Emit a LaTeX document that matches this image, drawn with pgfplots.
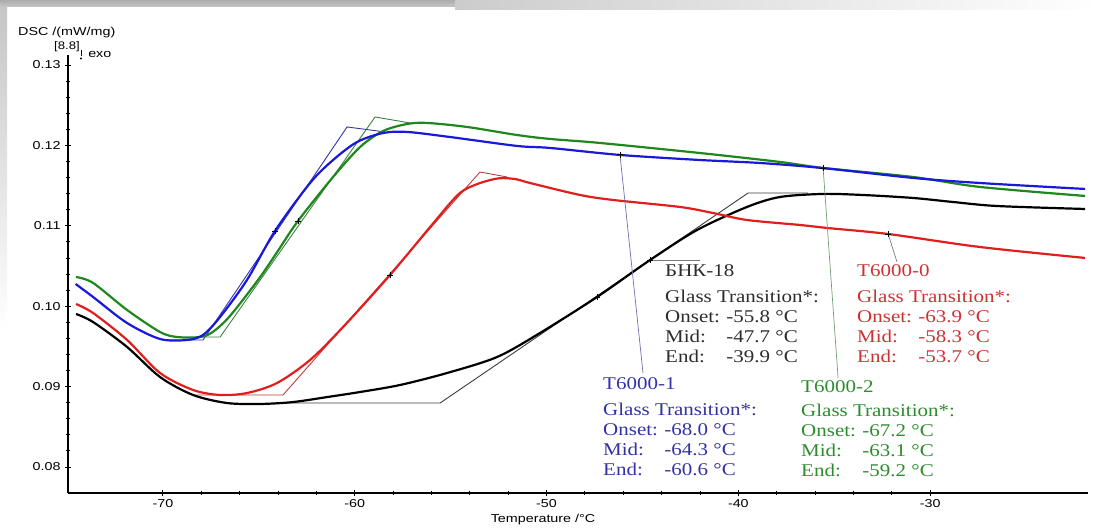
\documentclass[border=0pt]{standalone}
\usepackage{pgfplots}
\pgfplotsset{compat=1.18}
\usepackage{fontspec}
\setmainfont{Liberation Sans}
\newfontfamily\tnr{Liberation Serif}
\definecolor{cblue}{RGB}{25,25,215}
\definecolor{cgreen}{RGB}{30,135,30}
\definecolor{cred}{RGB}{225,30,30}
\definecolor{cblack}{RGB}{0,0,0}
\definecolor{tblue}{RGB}{50,50,165}
\definecolor{tgreen}{RGB}{45,140,45}
\definecolor{tred}{RGB}{205,50,50}
\definecolor{tblack}{RGB}{45,45,45}
\definecolor{kblue}{RGB}{50,50,170}
\definecolor{kgreen}{RGB}{60,130,60}
\definecolor{kred}{RGB}{190,60,60}
\definecolor{kblack}{RGB}{60,60,60}
\definecolor{lblue}{RGB}{110,110,180}
\definecolor{lgreen}{RGB}{110,160,110}
\definecolor{lgrey}{RGB}{120,120,120}
\begin{document}
\begin{tikzpicture}
\path[use as bounding box] (0bp,0bp) rectangle (1097bp,531bp);
\shade[top color=gray!65, bottom color=gray!45] (0bp,524bp) rectangle (455bp,531bp);
\shade[left color=gray!40, right color=white] (455bp,521bp) rectangle (1097bp,531bp);
\shade[top color=gray!45, bottom color=white] (0bp,200bp) rectangle (7bp,524bp);
\begin{axis}[
  at={(68bp,38bp)}, anchor=south west, scale only axis,
  width=1020bp, height=438bp,
  xmin=-74.95, xmax=-21.77, ymin=0.07677, ymax=0.13124,
  axis x line=bottom, axis y line=left,
  axis line style={-, line width=1.6bp, black},
  xtick={-70,-60,-50,-40,-30},
  ytick={0.08,0.09,0.10,0.11,0.12,0.13},
  minor x tick num=4, minor y tick num=4,
  tick align=center, major tick length=6bp, minor tick length=4bp,
  tick style={black, line width=0.9bp},
  scaled y ticks=false,
  y tick label style={/pgf/number format/.cd, fixed, fixed zerofill, precision=2},
  /pgf/number format/assume math mode=true,
  tick label style={font=\fontsize{11.5}{13}\selectfont, xscale=1.25},
]
% construction lines
\addplot[kblue, line width=0.9bp] coordinates {(-69.79,0.0958) (-67.91,0.0958) (-60.40,0.12229) (-58.42,0.12167)};
\addplot[kgreen, line width=0.9bp] coordinates {(-68.07,0.09617) (-67.02,0.09617) (-58.94,0.12353) (-57.12,0.12279)};
\addplot[kred, line width=0.9bp] coordinates {(-68.43,0.08896) (-63.74,0.08896) (-53.47,0.11669) (-52.06,0.11607)};
\addplot[kblack, line width=0.9bp] coordinates {(-64.05,0.08796) (-55.55,0.08796) (-39.49,0.11408) (-36.37,0.11408)};
% curves
\addplot[cblack, line width=2.2bp, smooth] coordinates {(-74.53,0.09903) (-73.64,0.09803) (-71.87,0.09493) (-70.15,0.09119) (-68.43,0.08896) (-66.66,0.08796) (-64.94,0.08784) (-63.22,0.08808) (-61.44,0.0887) (-59.72,0.08933) (-57.64,0.0902) (-55.19,0.09169) (-52.58,0.09368) (-50.34,0.09667) (-47.37,0.10114) (-44.60,0.10575) (-42.15,0.10948) (-39.55,0.11234) (-37.83,0.11358) (-35.58,0.11396) (-33.50,0.11383) (-30.89,0.11346) (-28.81,0.11296) (-26.51,0.11246) (-21.92,0.11209)};
\addplot[cred, line width=2.2bp, smooth] coordinates {(-74.53,0.10027) (-73.64,0.09915) (-71.87,0.0958) (-70.15,0.09169) (-68.43,0.08958) (-67.02,0.08896) (-65.62,0.0892) (-64.05,0.09045) (-62.33,0.09331) (-60.61,0.09741) (-58.16,0.10388) (-56.07,0.10985) (-54.6,0.1139) (-53.6,0.1152) (-52.5,0.1159) (-51.6,0.1158) (-50.86,0.11532) (-48.25,0.11383) (-46.53,0.11321) (-43.04,0.11234) (-41.32,0.11159) (-39.55,0.11072) (-36.78,0.1101) (-35.38,0.10973) (-32.19,0.10898) (-27.40,0.10736) (-21.92,0.106)};
\addplot[cgreen, line width=2.2bp, smooth] coordinates {(-74.53,0.10363) (-73.64,0.10289) (-71.87,0.09953) (-70.15,0.09679) (-69.26,0.09617) (-68.07,0.09617) (-67.4,0.0968) (-66.5,0.0988) (-65.0,0.1034) (-64.0,0.1069) (-62.96,0.1106) (-61.13,0.11607) (-59.72,0.1198) (-58.52,0.12179) (-57.27,0.12266) (-56.23,0.12279) (-54.14,0.12229) (-51.54,0.12129) (-49.82,0.1208) (-47.21,0.1203) (-42.00,0.11905) (-37.83,0.11794) (-35.58,0.11719) (-30.89,0.11607) (-27.40,0.11483) (-21.92,0.11371)};
\addplot[cblue, line width=2.2bp, smooth] coordinates {(-74.55,0.10276) (-73.64,0.10114) (-71.87,0.09791) (-70.15,0.09592) (-68.74,0.09580) (-67.91,0.09642) (-67.02,0.09866) (-65.62,0.10326) (-64.16,0.10935) (-62.33,0.11532) (-61.13,0.11818) (-59.88,0.12042) (-58.52,0.12154) (-57.27,0.12167) (-55.03,0.12104) (-51.54,0.11993) (-49.82,0.11968) (-46.17,0.11881) (-42.00,0.11818) (-38.87,0.11781) (-35.64,0.11719) (-30.89,0.11595) (-27.40,0.11532) (-21.92,0.11458)};
% leader lines
\addplot[lblue, line width=0.7bp] coordinates {(-46.17,0.11881) (-44.97,0.09169)};
\addplot[lgreen, line width=0.7bp] coordinates {(-35.58,0.11719) (-34.80,0.09107)};
\addplot[lgrey, line width=0.7bp] coordinates {(-32.19,0.10898) (-31.73,0.1055)};
\addplot[lgrey, line width=0.7bp] coordinates {(-44.60,0.10575) (-42.0,0.10575)};
% markers
\addplot[only marks, mark=+, mark size=3bp, black, line width=0.9bp] coordinates {(-64.16,0.10935) (-62.96,0.1106) (-58.16,0.10388) (-47.37,0.10114) (-44.60,0.10575) (-46.17,0.11881) (-35.58,0.11719) (-32.19,0.10898)};
\end{axis}
% axis texts
\node[anchor=west, inner sep=0pt, font=\fontsize{11.5}{13}\selectfont, xscale=1.25] at (18bp,498bp) {DSC /(mW/mg)};
\node[inner sep=0pt, font=\fontsize{11}{12}\selectfont, xscale=1.2] at (67bp,484bp) {[8.8]};
\node[anchor=west, inner sep=0pt, font=\fontsize{11.5}{13}\selectfont, xscale=1.25] at (88bp,477bp) {exo};
\draw[line width=0.7bp] (81bp,481bp) -- (81bp,475bp);
\fill (81bp,472.5bp) circle (1.1bp);
\node[inner sep=0pt, font=\fontsize{11.5}{13}\selectfont, xscale=1.25] at (543bp,11bp) {Temperature /°C};
% annotation blocks
\node[anchor=base west, inner sep=0pt, xscale=1.17, text=tblack, font=\tnr\fontsize{18}{20}\selectfont] at (665bp,254bp)
 {\begin{tabular}[t]{@{}l@{\hspace{5.5bp}}l@{}}\multicolumn{2}{@{}l@{}}{БНК-18}\\[6bp]\multicolumn{2}{@{}l@{}}{Glass Transition*:}\\Onset: & -55.8 °C\\Mid: & -47.7 °C\\End: & -39.9 °C\end{tabular}};
\node[anchor=base west, inner sep=0pt, xscale=1.17, text=tred, font=\tnr\fontsize{18}{20}\selectfont] at (857bp,254bp)
 {\begin{tabular}[t]{@{}l@{\hspace{5.5bp}}l@{}}\multicolumn{2}{@{}l@{}}{T6000-0}\\[6bp]\multicolumn{2}{@{}l@{}}{Glass Transition*:}\\Onset: & -63.9 °C\\Mid: & -58.3 °C\\End: & -53.7 °C\end{tabular}};
\node[anchor=base west, inner sep=0pt, xscale=1.17, text=tblue, font=\tnr\fontsize{18}{20}\selectfont] at (603bp,141bp)
 {\begin{tabular}[t]{@{}l@{\hspace{5.5bp}}l@{}}\multicolumn{2}{@{}l@{}}{T6000-1}\\[6bp]\multicolumn{2}{@{}l@{}}{Glass Transition*:}\\Onset: & -68.0 °C\\Mid: & -64.3 °C\\End: & -60.6 °C\end{tabular}};
\node[anchor=base west, inner sep=0pt, xscale=1.17, text=tgreen, font=\tnr\fontsize{18}{20}\selectfont] at (801bp,138bp)
 {\begin{tabular}[t]{@{}l@{\hspace{5.5bp}}l@{}}\multicolumn{2}{@{}l@{}}{T6000-2}\\[4bp]\multicolumn{2}{@{}l@{}}{Glass Transition*:}\\Onset: & -67.2 °C\\Mid: & -63.1 °C\\End: & -59.2 °C\end{tabular}};
\end{tikzpicture}
\end{document}
